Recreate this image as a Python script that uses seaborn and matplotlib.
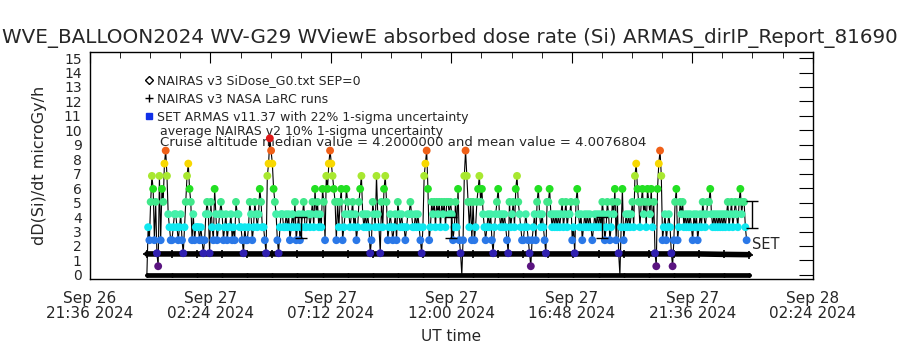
import pandas as pd
import seaborn as sns
import matplotlib.pyplot as plt
from matplotlib.lines import Line2D

# dose levels seen in the plot (microGy/h); the code characters below index this list
levels = [0.0, 0.6, 1.5, 2.4, 3.3, 4.2, 5.05, 5.95, 6.85, 7.7, 8.6, 9.45]
level_colors = ["#000000", "#5a1480", "#3020b0", "#2a78e8", "#10e8f0", "#44f0aa",
                "#40e88a", "#22e022", "#a8e830", "#f8d800", "#f06018", "#e01818"]

# SET ARMAS samples, 3 min cadence from 23:52 UT, one string per hour
armas_start = "2024-09-26 23:52"
armas_codes = [
    "043687362183769a8543",
    "34554345324689763534",
    "44343235652643753456",
    "53453445343655443243",
    "346534654576443289ba",
    "97653245544545345463",
    "45345644554564756454",
    "763879a9876364673457",
    "65456453467854545423",
    "65485426478634543453",
    "65454434556544545432",
    "489a7346564656465646",
    "65653464732038a86463",
    "63467867543454532456",
    "75454543264564786543",
    "34543213453675454326",
    "67545454545645645563",
    "42675453454545434545",
    "45465346534657362047",
    "34545456489764675647",
    "657462179a8345345421",
    "36734656454545435453",
    "45465456675454545454",
    "5456456456546756643",
]

# NAIRAS model runs, hourly from 23:52 UT
nairas_start = "2024-09-26 23:52"
nairas_larc = [1.45, 1.45, 1.45, 1.45, 1.45, 1.45, 1.45, 1.45, 1.45, 1.45, 1.45, 1.45, 1.45,
               1.45, 1.45, 1.45, 1.45, 1.45, 1.45, 1.45, 1.45, 1.45, 1.45, 1.42, 1.40]
nairas_g0 = [0.0, 0.0, 0.0, 0.0, 0.0, 0.0, 0.0, 0.0, 0.0, 0.0, 0.0, 0.0, 0.0,
             0.0, 0.0, 0.0, 0.0, 0.0, 0.0, 0.0, 0.0, 0.0, 0.0, 0.0, 0.0]

# 1-sigma uncertainty bars
err_time = ["2024-09-27 06:00", "2024-09-27 12:00", "2024-09-27 18:00", "2024-09-27 23:58"]
err_center = [3.3, 3.3, 3.3, 4.2]
err_frac = 0.22

x_ticks = ["2024-09-26 21:36", "2024-09-27 02:24", "2024-09-27 07:12", "2024-09-27 12:00",
           "2024-09-27 16:48", "2024-09-27 21:36", "2024-09-28 02:24"]

codes = "".join(armas_codes)
armas = pd.DataFrame({
    "time": pd.date_range(armas_start, periods=len(codes), freq="3min"),
    "dose": [levels[int(c, 16)] for c in codes],
})
nairas = pd.DataFrame({
    "time": pd.date_range(nairas_start, periods=len(nairas_larc), freq="1h"),
    "larc": nairas_larc,
    "g0": nairas_g0,
})
palette = dict(zip(levels, level_colors))

sns.set_style("white")
plt.rcParams["font.family"] = ["DejaVu Sans"]

fig = plt.figure(figsize=(9, 3.5), dpi=100)
ax = fig.add_axes([0.1, 0.203, 0.803, 0.648])

# NAIRAS curves
sns.lineplot(data=nairas, x="time", y="g0", ax=ax, color="black", lw=3.4,
             marker="D", markersize=2, markerfacecolor="black", markeredgecolor="black", zorder=2)
sns.lineplot(data=nairas, x="time", y="larc", ax=ax, color="black", lw=4,
             marker="+", markersize=6, markeredgewidth=1.2, markeredgecolor="black", zorder=2)

# ARMAS line + coloured symbols (no symbol for the zero drop-outs)
sns.lineplot(data=armas, x="time", y="dose", ax=ax, color="black", lw=0.8,
             sort=False, estimator=None, zorder=3)
sns.scatterplot(data=armas[armas["dose"] > 0], x="time", y="dose", hue="dose", palette=palette,
                ax=ax, s=32, linewidth=0, legend=False, zorder=4)

et = pd.to_datetime(err_time)
ax.errorbar(et, err_center, yerr=[c * err_frac for c in err_center], fmt="none",
            ecolor="black", elinewidth=1, capsize=4, capthick=1, zorder=5)
ax.text(et[-1], 2.1, "SET", fontsize=10.5, va="center", ha="left")

ax.set_xlim(pd.Timestamp(x_ticks[0]), pd.Timestamp(x_ticks[-1]))
ax.set_ylim(-0.28, 15.41)
ax.set_yticks(range(16))
ax.set_yticklabels([str(v) for v in range(16)], fontsize=10)
ax.set_xticks(pd.to_datetime(x_ticks))
ax.set_xticklabels([pd.Timestamp(t).strftime("%b %d\n%H:%M %Y") for t in x_ticks],
                   fontsize=11, linespacing=0.95)
ax.set_xticks(pd.date_range(x_ticks[0], x_ticks[-1], freq="72min"), minor=True)

ax.tick_params(which="both", direction="in", top=True, right=True, color="black")
ax.tick_params(axis="y", length=10, pad=6)
ax.tick_params(axis="x", which="major", length=8, pad=9)
ax.tick_params(axis="x", which="minor", length=4)
for sp in ax.spines.values():
    sp.set_color("black")
    sp.set_linewidth(1)

ax.set_xlabel("UT time", fontsize=11, labelpad=6)
ax.set_ylabel("dD(Si)/dt microGy/h", fontsize=11.5, labelpad=12)

handles = [
    Line2D([], [], ls="none", marker="D", markersize=4, markerfacecolor="none", markeredgecolor="black"),
    Line2D([], [], ls="none", marker="+", markersize=6, markeredgecolor="black"),
    Line2D([], [], ls="none", marker="s", markersize=4, markerfacecolor="#1030e8", markeredgecolor="#1030e8"),
]
labels = ["NAIRAS v3 SiDose_G0.txt SEP=0", "NAIRAS v3 NASA LaRC runs",
          "SET ARMAS v11.37 with 22% 1-sigma uncertainty"]
ax.legend(handles, labels, loc="upper left", bbox_to_anchor=(0.068, 0.93), frameon=False,
          fontsize=9, handlelength=0.6, handletextpad=0.3, labelspacing=0.42, borderpad=0)
ax.text(0.097, 0.652, "average NAIRAS v2 10% 1-sigma uncertainty", transform=ax.transAxes,
        fontsize=9, va="center")
ax.text(0.097, 0.600, "Cruise altitude median value = 4.2000000 and mean value = 4.0076804",
        transform=ax.transAxes, fontsize=9.5, va="center")

fig.text(0.5, 1 - 38 / 350, "WVE_BALLOON2024 WV-G29 WViewE absorbed dose rate (Si) ARMAS_dirIP_Report_81690",
         fontsize=14.3, ha="center", va="center")

fig.savefig("out.png", dpi=100, facecolor="white")
